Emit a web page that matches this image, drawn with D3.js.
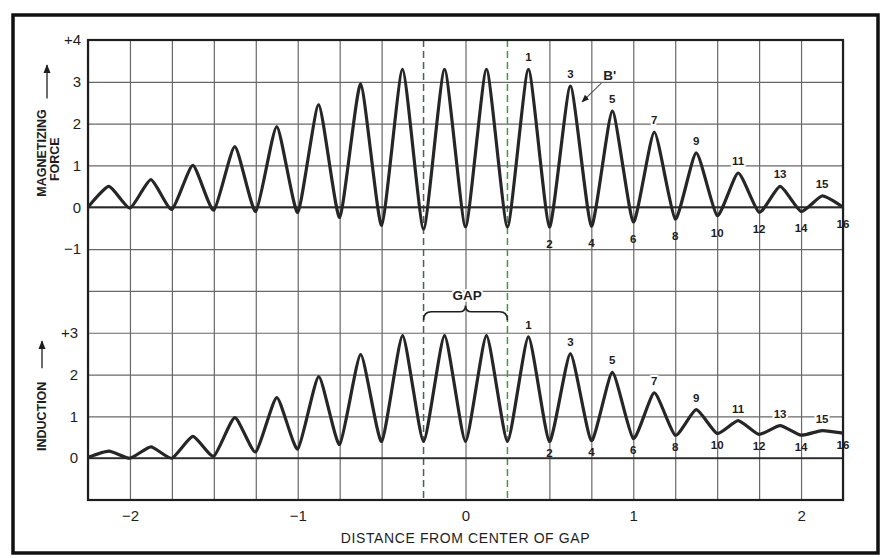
<!DOCTYPE html>
<html>
<head>
<meta charset="utf-8">
<script src="https://cdn.jsdelivr.net/npm/d3@7"></script>
<style>
body { margin: 0; background: #fff; }
text { font-family: "Liberation Sans", Arial, Helvetica, sans-serif; fill: #1e1e1e; }
.grid line { stroke: #686868; stroke-width: 1.2; }
.grid path { display: none; }
.axis path { display: none; }
.axis line { display: none; }
.axis text { font-size: 15px; font-family: "Liberation Sans", Arial, sans-serif; fill: #1e1e1e; }
.halo { paint-order: stroke; stroke: #fff; stroke-width: 4px; stroke-linejoin: round; }
</style>
</head>
<body>
<div id="chart"></div>
<script>
// positions of the peaks and troughs along the gap axis
var extremaX = [-2.25, -2.125, -2, -1.875, -1.75, -1.625, -1.5, -1.375, -1.25, -1.125,
                -1, -0.875, -0.75, -0.625, -0.5, -0.375, -0.25, -0.125, 0, 0.125,
                0.25, 0.375, 0.5, 0.625, 0.75, 0.875, 1, 1.125, 1.25, 1.375,
                1.5, 1.625, 1.75, 1.875, 2, 2.125, 2.25];

// magnetizing force (upper curve, B')
var magForce = [0, 0.5, -0.02, 0.66, -0.05, 1.0, -0.07, 1.45, -0.1, 1.93,
                -0.12, 2.45, -0.24, 2.95, -0.43, 3.3, -0.52, 3.3, -0.47, 3.3,
                -0.47, 3.3, -0.47, 2.9, -0.45, 2.3, -0.35, 1.8, -0.28, 1.3,
                -0.2, 0.82, -0.12, 0.5, -0.1, 0.27, 0];

// induction (lower curve)
var induction = [0.02, 0.17, 0, 0.27, 0, 0.52, 0.05, 0.97, 0.15, 1.45,
                 0.22, 1.95, 0.33, 2.48, 0.4, 2.93, 0.4, 2.93, 0.4, 2.93,
                 0.4, 2.9, 0.4, 2.5, 0.42, 2.05, 0.47, 1.56, 0.55, 1.16,
                 0.59, 0.9, 0.57, 0.78, 0.55, 0.66, 0.6];

// numbering of the extremes to the right of the gap (starts at index 21)
var waveLabels = ["1","2","3","4","5","6","7","8","9","10","11","12","13","14","15","16"];
var labelStart = 21;

var xTicks = [-2, -1, 0, 1, 2];
var topTicks = [4, 3, 2, 1, 0, -1];
var botTicks = [3, 2, 1, 0];
var gapEdges = [-0.25, 0.25];

var width = 885, height = 558;
var margin = {top: 40, right: 42, bottom: 58, left: 88};
var plotW = width - margin.left - margin.right;
var plotH = height - margin.top - margin.bottom;

var x = d3.scaleLinear().domain([-2.25, 2.25]).range([margin.left, width - margin.right]);
// both panels share one grid of 11 rows
var yTop = d3.scaleLinear().domain([-7, 4]).range([margin.top + plotH, margin.top]);
var yBot = d3.scaleLinear().domain([-1, 10]).range([margin.top + plotH, margin.top]);

var svg = d3.select("#chart").append("svg")
    .attr("width", width)
    .attr("height", height);

svg.append("rect").attr("width", width).attr("height", height).attr("fill", "#fff");

var defs = svg.append("defs");
defs.append("marker")
    .attr("id", "arr")
    .attr("viewBox", "0 0 10 10")
    .attr("refX", 9).attr("refY", 5)
    .attr("markerWidth", 7).attr("markerHeight", 7)
    .attr("orient", "auto")
    .append("path")
    .attr("d", "M0,1 L10,5 L0,9 Z")
    .attr("fill", "#1e1e1e");

// outer frame
svg.append("rect")
    .attr("x", 13).attr("y", 15)
    .attr("width", 865).attr("height", 538)
    .attr("fill", "none")
    .attr("stroke", "#111")
    .attr("stroke-width", 3.5);

// vertical grid, every quarter unit (gap edges drawn dashed below)
var gridX = d3.range(-2.25, 2.26, 0.25).filter(function(v) { return Math.abs(Math.abs(v) - 0.25) > 1e-6; });
svg.append("g")
    .attr("class", "grid")
    .attr("transform", "translate(0," + (margin.top + plotH) + ")")
    .call(d3.axisBottom(x).tickValues(gridX).tickSize(-plotH).tickFormat(""));

// horizontal grid
svg.append("g")
    .attr("class", "grid")
    .attr("transform", "translate(" + margin.left + ",0)")
    .call(d3.axisLeft(yTop).tickValues(d3.range(-7, 5)).tickSize(-plotW).tickFormat(""));

// gap edges
svg.selectAll(".gapline")
    .data(gapEdges)
    .enter().append("line")
    .attr("class", "gapline")
    .attr("x1", function(d) { return x(d); })
    .attr("x2", function(d) { return x(d); })
    .attr("y1", margin.top)
    .attr("y2", margin.top + plotH)
    .attr("stroke", function(d, i) { return i === 0 ? "#4f604f" : "#3f9a3f"; })
    .attr("stroke-width", 1.5)
    .attr("stroke-dasharray", "7,4");

// zero lines of both panels
svg.append("line")
    .attr("x1", margin.left).attr("x2", width - margin.right)
    .attr("y1", yTop(0)).attr("y2", yTop(0))
    .attr("stroke", "#2a2a2a").attr("stroke-width", 1.8);
svg.append("line")
    .attr("x1", margin.left).attr("x2", width - margin.right)
    .attr("y1", yBot(0)).attr("y2", yBot(0))
    .attr("stroke", "#2a2a2a").attr("stroke-width", 1.8);

// plot border
svg.append("rect")
    .attr("x", margin.left).attr("y", margin.top)
    .attr("width", plotW).attr("height", plotH)
    .attr("fill", "none")
    .attr("stroke", "#1e1e1e")
    .attr("stroke-width", 2.2);

// curves
var lineTop = d3.line()
    .x(function(d, i) { return x(extremaX[i]); })
    .y(function(d) { return yTop(d); })
    .curve(d3.curveCardinal.tension(0.45));
var lineBot = d3.line()
    .x(function(d, i) { return x(extremaX[i]); })
    .y(function(d) { return yBot(d); })
    .curve(d3.curveCardinal.tension(0.45));

svg.append("path")
    .attr("d", lineTop(magForce))
    .attr("fill", "none")
    .attr("stroke", "#262626")
    .attr("stroke-width", 3.2)
    .attr("stroke-linejoin", "round");
svg.append("path")
    .attr("d", lineBot(induction))
    .attr("fill", "none")
    .attr("stroke", "#262626")
    .attr("stroke-width", 3.2)
    .attr("stroke-linejoin", "round");

// numbers on peaks (odd, white halo over the grid) and troughs (even)
function addLabels(values, yScale, troughOffset) {
    svg.append("g").selectAll("text")
        .data(waveLabels)
        .enter().append("text")
        .attr("class", function(d, i) { return i % 2 === 0 ? "halo" : null; })
        .attr("x", function(d, i) { return x(extremaX[labelStart + i]); })
        .attr("y", function(d, i) {
            var v = yScale(values[labelStart + i]);
            return (i % 2 === 0) ? v - 8 : v + troughOffset;
        })
        .attr("text-anchor", "middle")
        .attr("font-size", 11.5)
        .attr("font-weight", "bold")
        .text(function(d) { return d; });
}
addLabels(magForce, yTop, 21);
addLabels(induction, yBot, 15.5);

// y axes
var fmtSigned = function(top) {
    return function(d) { return d === top ? "+" + d : (d < 0 ? "\u2212" + (-d) : d); };
};
svg.append("g")
    .attr("class", "axis")
    .attr("transform", "translate(" + margin.left + ",0)")
    .call(d3.axisLeft(yTop).tickValues(topTicks).tickSize(0).tickPadding(7).tickFormat(fmtSigned(4)));
svg.append("g")
    .attr("class", "axis")
    .attr("transform", "translate(" + margin.left + ",0)")
    .call(d3.axisLeft(yBot).tickValues(botTicks).tickSize(0).tickPadding(10).tickFormat(fmtSigned(3)));

// x axis
svg.append("g")
    .attr("class", "axis")
    .attr("transform", "translate(0," + (margin.top + plotH) + ")")
    .call(d3.axisBottom(x).tickValues(xTicks).tickSize(0).tickPadding(10)
        .tickFormat(function(d) { return d < 0 ? "\u2212" + (-d) : d; }));

svg.append("text")
    .attr("x", x(0))
    .attr("y", 543)
    .attr("text-anchor", "middle")
    .attr("font-size", 14)
    .attr("letter-spacing", 0.6)
    .text("DISTANCE FROM CENTER OF GAP");

// y titles
svg.append("text")
    .attr("transform", "translate(46," + yTop(1.3) + ") rotate(-90)")
    .attr("text-anchor", "middle")
    .attr("font-size", 12.5)
    .attr("font-weight", "bold")
    .text("MAGNETIZING");
svg.append("text")
    .attr("transform", "translate(59," + yTop(1.15) + ") rotate(-90)")
    .attr("text-anchor", "middle")
    .attr("font-size", 12.5)
    .attr("font-weight", "bold")
    .text("FORCE");
svg.append("line")
    .attr("x1", 47).attr("x2", 47)
    .attr("y1", yTop(2.6)).attr("y2", yTop(3.4))
    .attr("stroke", "#1e1e1e").attr("stroke-width", 1.3)
    .attr("marker-end", "url(#arr)");

svg.append("text")
    .attr("transform", "translate(46," + yBot(1.0) + ") rotate(-90)")
    .attr("text-anchor", "middle")
    .attr("font-size", 12.5)
    .attr("font-weight", "bold")
    .text("INDUCTION");
svg.append("line")
    .attr("x1", 42).attr("x2", 42)
    .attr("y1", yBot(2.15)).attr("y2", yBot(2.8))
    .attr("stroke", "#1e1e1e").attr("stroke-width", 1.3)
    .attr("marker-end", "url(#arr)");

// GAP brace
var bx0 = x(gapEdges[0]), bx1 = x(gapEdges[1]), bxm = x(0);
var by = yBot(3.5), byEnd = yBot(3.3), byTip = yBot(3.65);
svg.append("path")
    .attr("d", "M" + bx0 + "," + byEnd +
        " Q" + bx0 + "," + by + " " + (bx0 + 8) + "," + by +
        " L" + (bxm - 6) + "," + by +
        " Q" + bxm + "," + by + " " + bxm + "," + byTip +
        " Q" + bxm + "," + by + " " + (bxm + 6) + "," + by +
        " L" + (bx1 - 8) + "," + by +
        " Q" + bx1 + "," + by + " " + bx1 + "," + byEnd)
    .attr("fill", "none")
    .attr("stroke", "#1e1e1e")
    .attr("stroke-width", 1.6);
svg.append("text")
    .attr("class", "halo")
    .attr("x", x(0.01))
    .attr("y", yBot(3.9) + 5)
    .attr("text-anchor", "middle")
    .attr("font-size", 13.5)
    .attr("font-weight", "bold")
    .attr("stroke-width", 7)
    .text("GAP");

// B' annotation
svg.append("text")
    .attr("x", x(0.86))
    .attr("y", yTop(3.17) + 5)
    .attr("text-anchor", "middle")
    .attr("font-size", 13.5)
    .attr("font-weight", "bold")
    .text("B'");
svg.append("line")
    .attr("x1", x(0.81)).attr("y1", yTop(2.97))
    .attr("x2", x(0.695)).attr("y2", yTop(2.52))
    .attr("stroke", "#555").attr("stroke-width", 1.1)
    .attr("marker-end", "url(#arr)");
</script>
</body>
</html>
